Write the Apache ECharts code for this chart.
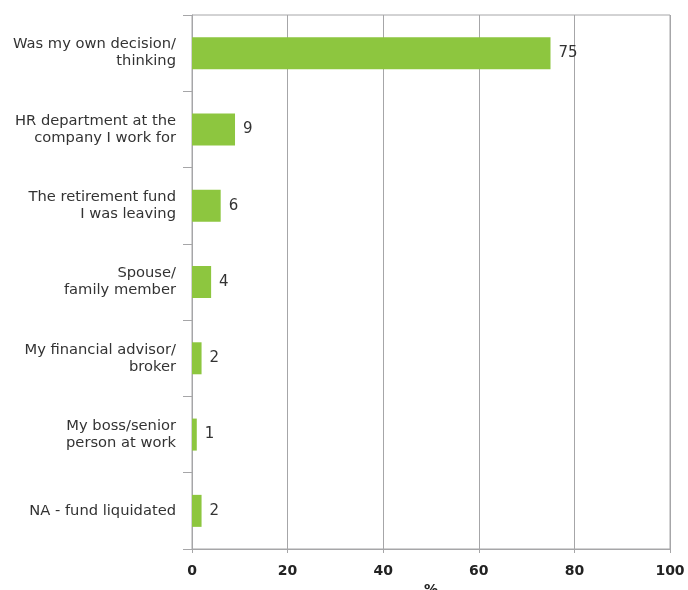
<!DOCTYPE html>
<html>
<head>
<meta charset="utf-8">
<script src="https://cdn.jsdelivr.net/npm/echarts@6/dist/echarts.min.js"></script>
<style>html,body{margin:0;padding:0;background:#fff;}#c{width:688px;height:590px;}</style>
</head>
<body>
<div id="c"></div>
<script>
const categories = [
  "Was my own decision/\nthinking",
  "HR department at the\ncompany I work for",
  "The retirement fund\nI was leaving",
  "Spouse/\nfamily member",
  "My financial advisor/\nbroker",
  "My boss/senior\nperson at work",
  "NA - fund liquidated"
];
const values = [75, 9, 6, 4, 2, 1, 2];
const xTicks = { min: 0, max: 100, interval: 20 };
const axisName = "%";

const chart = echarts.init(document.getElementById('c'), null, { renderer: 'canvas' });
const gray = '#a6a6a8';
chart.setOption({
  animation: false,
  textStyle: { fontFamily: 'DejaVu Sans' },
  grid: { left: 192, right: 18, top: 15, bottom: 41, show: true, borderColor: gray, borderWidth: 1, containLabel: false, outerBoundsMode: 'none' },
  xAxis: {
    type: 'value', min: xTicks.min, max: xTicks.max, interval: xTicks.interval,
    axisLine: { show: true, lineStyle: { color: gray, width: 1 } },
    axisTick: { show: true, length: 4, lineStyle: { color: gray } },
    splitLine: { show: true, lineStyle: { color: gray, width: 1 } },
    axisLabel: { color: '#222', fontWeight: 'bold', fontSize: 14, margin: 15, fontFamily: 'DejaVu Sans' },
    name: axisName, nameLocation: 'middle', nameGap: 34,
    nameTextStyle: { color: '#222', fontWeight: 'bold', fontSize: 14, fontFamily: 'DejaVu Sans' }
  },
  yAxis: {
    type: 'category', data: categories, inverse: true,
    axisLine: { show: true, lineStyle: { color: gray, width: 1 } },
    axisTick: { show: true, length: 9, lineStyle: { color: gray } },
    axisLabel: { color: '#333', fontSize: 14.7, lineHeight: 17, margin: 16, align: 'right', fontFamily: 'DejaVu Sans' }
  },
  series: [{
    type: 'bar', data: values, barWidth: 32,
    itemStyle: { color: '#8dc63f' },
    label: { show: true, position: 'right', distance: 8, color: '#333', fontSize: 15, fontFamily: 'DejaVu Sans' }
  }]
});
</script>
</body>
</html>
